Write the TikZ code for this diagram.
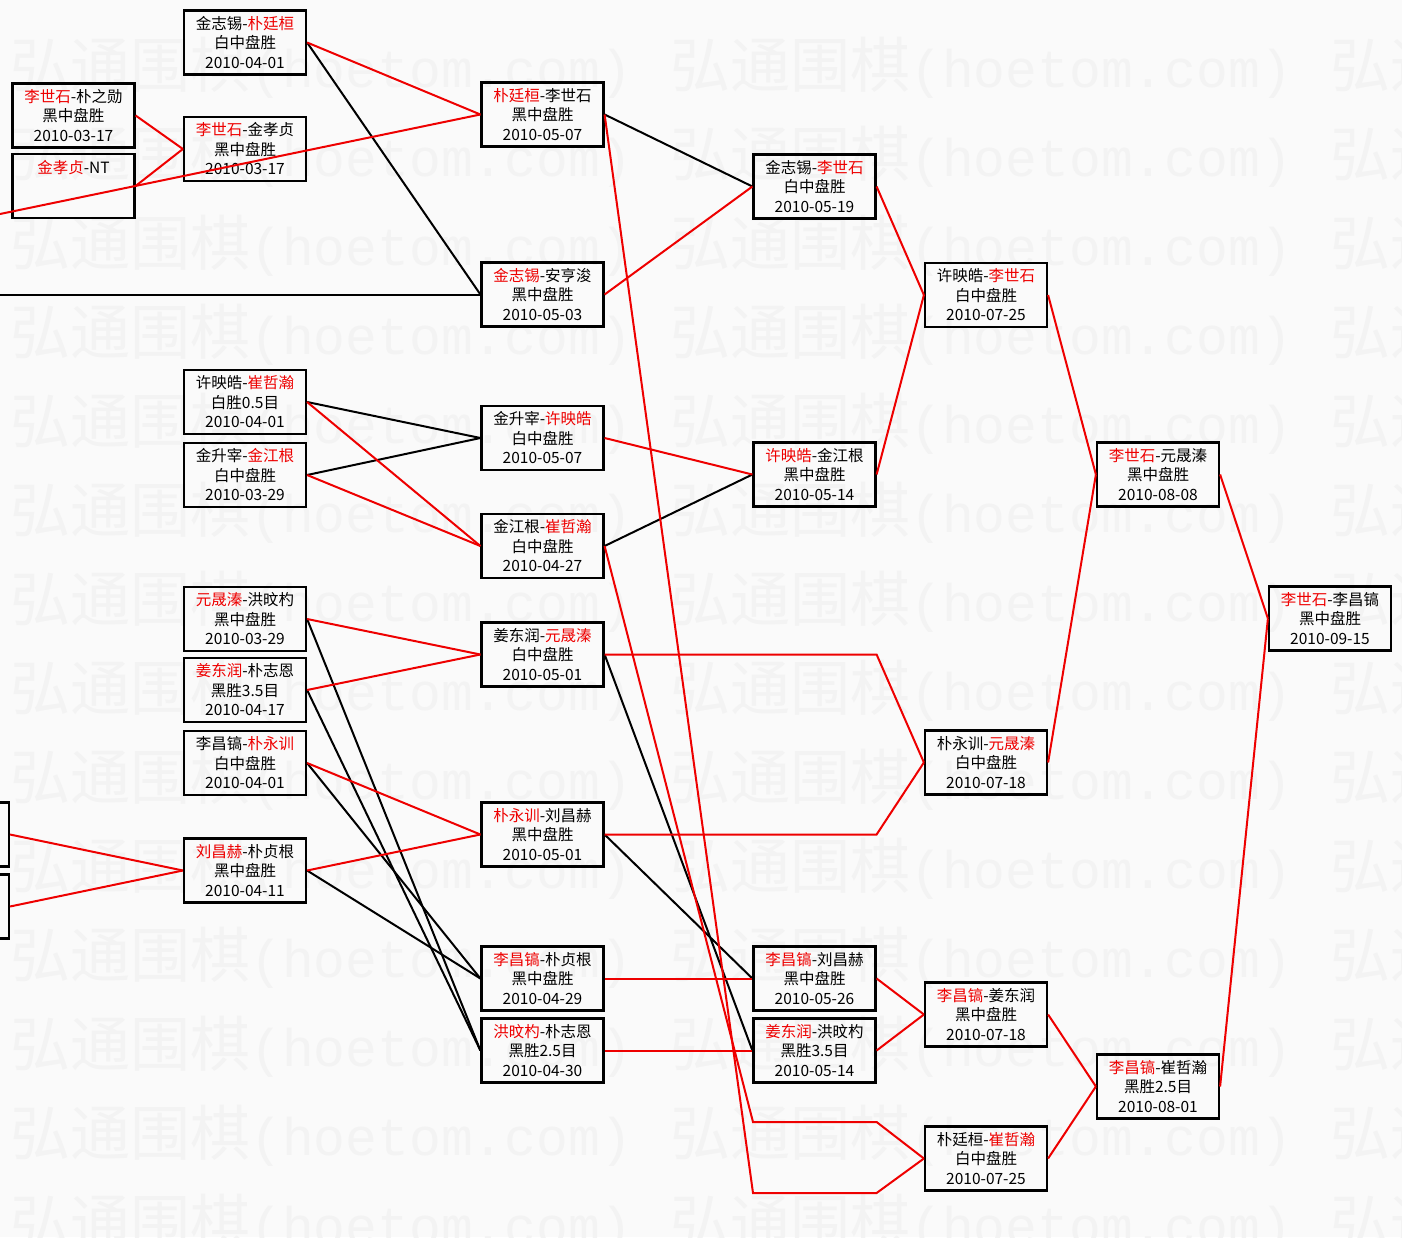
\documentclass[tikz,border=0pt]{standalone}
\usepackage{fontspec}
\setmainfont{Noto Sans CJK SC}
\newfontfamily\wmlatin{Liberation Mono}
\usepackage{xcolor}
\usepackage{tikz}
\definecolor{winred}{RGB}{238,0,0}
\definecolor{paper}{RGB}{250,250,250}
\definecolor{wmgray}{RGB}{243,243,243}
\newcommand{\wn}[1]{\textcolor{winred}{#1}}
\newcommand{\wmark}{{\fontsize{60}{60}\selectfont 弘通围棋}{\wmlatin\fontsize{53}{53}\selectfont(hoetom.com)}}

\tikzset{
  game/.style={draw=black,line width=2.2pt,minimum width=122pt,minimum height=64pt,
    inner sep=0pt,align=center,font=\fontsize{15.5}{19.5}\selectfont},
  win/.style={draw=winred,line width=2pt},
  lose/.style={draw=black,line width=2pt},
  wm/.style={text=wmgray,anchor=west,inner sep=0pt}
}

\begin{document}
\begin{tikzpicture}[x=1pt,y=-1pt]
  \useasboundingbox (0,0) rectangle (1402,1237);
  \fill[paper] (0,0) rectangle (1402,1237);
  % watermark
  \foreach \r in {0,...,13}
    \foreach \c in {0,1,2}
      \node[wm] at (10+660*\c,68+89*\r) {\wmark};

  % round 1
  \node[game] (A1) at (73.5,115.5) {\wn{李世石}-朴之勋\\黑中盘胜\\2010-03-17};
  \node[game] (A2) at (73.5,186) {\wn{金孝贞}-NT\\\mbox{}\\\mbox{}};
  \node[game,anchor=east] (L1) at (10,834.5) {};
  \node[game,anchor=east] (L2) at (10,906.5) {};
  \coordinate (offa) at (0,214);
  \coordinate (offb) at (0,294.5);

  % round 2
  \node[game] (B1) at (245,42.5) {金志锡-\wn{朴廷桓}\\白中盘胜\\2010-04-01};
  \node[game] (B2) at (245,149) {\wn{李世石}-金孝贞\\黑中盘胜\\2010-03-17};
  \node[game] (B3) at (245,402) {许映皓-\wn{崔哲瀚}\\白胜0.5目\\2010-04-01};
  \node[game] (B4) at (245,475) {金升宰-\wn{金江根}\\白中盘胜\\2010-03-29};
  \node[game] (B5) at (245,619) {\wn{元晟溱}-洪旼杓\\黑中盘胜\\2010-03-29};
  \node[game] (B6) at (245,690) {\wn{姜东润}-朴志恩\\黑胜3.5目\\2010-04-17};
  \node[game] (B7) at (245,763) {李昌镐-\wn{朴永训}\\白中盘胜\\2010-04-01};
  \node[game] (B8) at (245,870.5) {\wn{刘昌赫}-朴贞根\\黑中盘胜\\2010-04-11};

  % round 3
  \node[game] (C1) at (542.5,114.5) {\wn{朴廷桓}-李世石\\黑中盘胜\\2010-05-07};
  \node[game] (C2) at (542.5,294.5) {\wn{金志锡}-安亨浚\\黑中盘胜\\2010-05-03};
  \node[game] (C3) at (542.5,438) {金升宰-\wn{许映皓}\\白中盘胜\\2010-05-07};
  \node[game] (C4) at (542.5,546) {金江根-\wn{崔哲瀚}\\白中盘胜\\2010-04-27};
  \node[game] (C5) at (542.5,654.5) {姜东润-\wn{元晟溱}\\白中盘胜\\2010-05-01};
  \node[game] (C6) at (542.5,834.5) {\wn{朴永训}-刘昌赫\\黑中盘胜\\2010-05-01};
  \node[game] (C7) at (542.5,978.5) {\wn{李昌镐}-朴贞根\\黑中盘胜\\2010-04-29};
  \node[game] (C8) at (542.5,1050.5) {\wn{洪旼杓}-朴志恩\\黑胜2.5目\\2010-04-30};

  % round 4
  \node[game] (D1) at (814.5,186.5) {金志锡-\wn{李世石}\\白中盘胜\\2010-05-19};
  \node[game] (D2) at (814.5,474.5) {\wn{许映皓}-金江根\\黑中盘胜\\2010-05-14};
  \node[game] (D3) at (814.5,978.5) {\wn{李昌镐}-刘昌赫\\黑中盘胜\\2010-05-26};
  \node[game] (D4) at (814.5,1050.5) {\wn{姜东润}-洪旼杓\\黑胜3.5目\\2010-05-14};
  \coordinate (e4a) at (753,1122);
  \coordinate (e4b) at (753,1193);

  % round 5
  \node[game] (E1) at (986,295) {许映皓-\wn{李世石}\\白中盘胜\\2010-07-25};
  \node[game] (E2) at (986,762.5) {朴永训-\wn{元晟溱}\\白中盘胜\\2010-07-18};
  \node[game] (E3) at (986,1014.5) {\wn{李昌镐}-姜东润\\黑中盘胜\\2010-07-18};
  \node[game] (E4) at (986,1158.5) {朴廷桓-\wn{崔哲瀚}\\白中盘胜\\2010-07-25};

  % semifinal and final
  \node[game] (F1) at (1158,474.5) {\wn{李世石}-元晟溱\\黑中盘胜\\2010-08-08};
  \node[game] (F2) at (1158,1086.5) {\wn{李昌镐}-崔哲瀚\\黑胜2.5目\\2010-08-01};
  \node[game] (G1) at (1330,618.5) {\wn{李世石}-李昌镐\\黑中盘胜\\2010-09-15};

  % losers
  \draw[lose] (B1.east) -- (C2.west);
  \draw[lose] (offb) -- (C2.west);
  \draw[lose] (B3.east) -- (C3.west);
  \draw[lose] (B4.east) -- (C3.west);
  \draw[lose] (B5.east) -- (C8.west);
  \draw[lose] (B6.east) -- (C8.west);
  \draw[lose] (B7.east) -- (C7.west);
  \draw[lose] (B8.east) -- (C7.west);
  \draw[lose] (C1.east) -- (D1.west);
  \draw[lose] (C4.east) -- (D2.west);
  \draw[lose] (C6.east) -- (D3.west);
  \draw[lose] (C5.east) -- (D4.west);

  % winners
  \draw[win] (A1.east) -- (B2.west);
  \draw[win] (A2.east) -- (B2.west);
  \draw[win] (offa) -- (C1.west);
  \draw[win] (L1.east) -- (B8.west);
  \draw[win] (L2.east) -- (B8.west);
  \draw[win] (B1.east) -- (C1.west);
  \draw[win] (B3.east) -- (C4.west);
  \draw[win] (B4.east) -- (C4.west);
  \draw[win] (B5.east) -- (C5.west);
  \draw[win] (B6.east) -- (C5.west);
  \draw[win] (B7.east) -- (C6.west);
  \draw[win] (B8.east) -- (C6.west);
  \draw[win] (C2.east) -- (D1.west);
  \draw[win] (C3.east) -- (D2.west);
  \draw[win] (C7.east) -- (D3.west);
  \draw[win] (C8.east) -- (D4.west);
  \draw[win] (C5.east) -- (C5.east -| D1.east) -- (E2.west);
  \draw[win] (C6.east) -- (C6.east -| D1.east) -- (E2.west);
  \draw[win] (C4.east) -- (e4a) -- (e4a -| D4.east) -- (E4.west);
  \draw[win] (C1.east) -- (e4b) -- (e4b -| D4.east) -- (E4.west);
  \draw[win] (D1.east) -- (E1.west);
  \draw[win] (D2.east) -- (E1.west);
  \draw[win] (D3.east) -- (E3.west);
  \draw[win] (D4.east) -- (E3.west);
  \draw[win] (E1.east) -- (F1.west);
  \draw[win] (E2.east) -- (F1.west);
  \draw[win] (E3.east) -- (F2.west);
  \draw[win] (E4.east) -- (F2.west);
  \draw[win] (F1.east) -- (G1.west);
  \draw[win] (F2.east) -- (G1.west);
\end{tikzpicture}
\end{document}
